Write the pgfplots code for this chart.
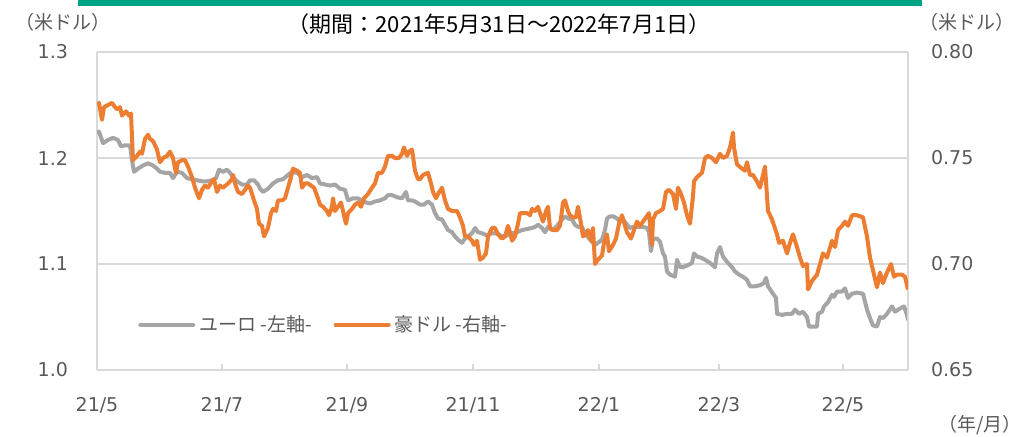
\documentclass[border=0pt]{standalone}
\usepackage{pgfplots}
\pgfplotsset{compat=1.18}
\usepackage{fontspec}
\setmainfont{DejaVu Sans}
\newfontfamily\jp{Noto Sans CJK JP}
\definecolor{eurgray}{HTML}{A5A5A5}
\definecolor{audorange}{HTML}{ED7D31}
\definecolor{gridgray}{HTML}{D9D9D9}
\definecolor{txtgray}{HTML}{595959}
\definecolor{bargreen}{HTML}{00A383}
\begin{document}
\begin{tikzpicture}
\useasboundingbox (-48.5pt,-33pt) rectangle (465.5pt,185pt);
\fill[bargreen] (-9.5pt,182pt) rectangle (412.5pt,185pt);
\node[font=\jp\fontsize{11pt}{13pt}\selectfont, text=black] at (201pt,173pt) {（期間：2021年5月31日～2022年7月1日）};
\node[font=\jp\fontsize{9.5pt}{11pt}\selectfont, text=txtgray] at (-17pt,174pt) {（米ドル）};
\node[font=\jp\fontsize{9.5pt}{11pt}\selectfont, text=txtgray] at (435pt,174pt) {（米ドル）};
\node[font=\jp\fontsize{9.5pt}{11pt}\selectfont, text=txtgray] at (441.5pt,-27.5pt) {（年/月）};
\begin{axis}[
  at={(0pt,0pt)}, anchor=south west,
  scale only axis, width=405.5pt, height=159pt,
  xmin=0, xmax=811, ymin=1.0, ymax=1.3,
  ytick={1.0,1.1,1.2,1.3},
  yticklabel style={/pgf/number format/fixed,/pgf/number format/fixed zerofill,/pgf/number format/precision=1, xshift=-11pt},
  xtick={0,125,250,376,502,622,746},
  xticklabels={21/5,21/7,21/9,21/11,22/1,22/3,22/5},
  xticklabel style={yshift=-10pt},
  /pgf/number format/assume math mode=true,
  ticklabel style={font=\fontsize{9.5pt}{11pt}\selectfont, text=txtgray},
  ymajorgrids, grid style={gridgray, line width=0.75pt},
  axis line style={gridgray, line width=0.75pt},
  ytick style={draw=none},
  xtick pos=bottom, xtick align=inside,
  xtick style={gridgray, line width=0.75pt},
  major tick length=3pt,
  axis y line*=left,
]
\addplot[eurgray, line width=2pt, line join=round] coordinates {
(0,1.223)(2,1.225)(6,1.214)(11,1.217)(16,1.219)(21,1.217)(24,1.211)(28,1.212)(33,1.212)(35,1.198)(37,1.187)(41,1.190)(46,1.193)(51,1.195)(56,1.193)(60,1.190)(63,1.187)(68,1.186)(73,1.186)(76,1.181)(80,1.187)(85,1.186)(90,1.181)(95,1.180)(100,1.179)(105,1.178)(110,1.178)(115,1.179)(119,1.181)(122,1.189)(126,1.187)(130,1.189)(133,1.186)(136,1.182)(140,1.178)(145,1.175)(150,1.175)(153,1.179)(157,1.179)(161,1.175)(163,1.171)(166,1.168)(171,1.171)(176,1.176)(181,1.179)(186,1.180)(191,1.184)(195,1.187)(200,1.186)(205,1.182)(210,1.184)(215,1.181)(220,1.182)(223,1.176)(228,1.175)(233,1.174)(238,1.175)(243,1.171)(248,1.170)(251,1.160)(256,1.162)(261,1.162)(266,1.159)(273,1.157)(278,1.159)(283,1.160)(288,1.162)(291,1.165)(295,1.165)(300,1.163)(305,1.162)(309,1.168)(311,1.160)(315,1.160)(318,1.159)(323,1.156)(327,1.156)(331,1.159)(335,1.156)(338,1.148)(341,1.143)(345,1.142)(348,1.137)(351,1.132)(355,1.130)(358,1.126)(361,1.123)(365,1.120)(368,1.124)(371,1.126)(375,1.129)(378,1.134)(381,1.130)(385,1.129)(390,1.127)(395,1.129)(400,1.129)(405,1.126)(410,1.127)(415,1.129)(420,1.130)(425,1.132)(430,1.133)(435,1.134)(438,1.135)(441,1.137)(445,1.134)(448,1.130)(451,1.135)(455,1.132)(458,1.134)(461,1.137)(465,1.142)(468,1.145)(471,1.143)(475,1.142)(478,1.137)(481,1.135)(485,1.135)(488,1.129)(493,1.123)(498,1.118)(501,1.120)(505,1.123)(508,1.132)(510,1.143)(513,1.145)(516,1.145)(520,1.143)(523,1.140)(526,1.142)(530,1.137)(533,1.134)(536,1.135)(541,1.135)(546,1.135)(550,1.134)(552,1.130)(554,1.112)(556,1.124)(560,1.124)(563,1.121)(566,1.110)(568,1.107)(570,1.093)(573,1.090)(578,1.088)(580,1.104)(583,1.097)(586,1.097)(591,1.099)(595,1.101)(597,1.110)(600,1.107)(604,1.106)(608,1.104)(613,1.101)(618,1.097)(620,1.110)(623,1.116)(626,1.107)(630,1.102)(635,1.097)(638,1.093)(642,1.090)(646,1.088)(650,1.085)(653,1.079)(658,1.079)(663,1.080)(667,1.082)(669,1.087)(671,1.079)(676,1.072)(679,1.068)(680,1.053)(685,1.052)(690,1.053)(695,1.053)(698,1.057)(702,1.053)(706,1.055)(710,1.050)(712,1.041)(716,1.041)(720,1.041)(721,1.053)(725,1.055)(727,1.060)(731,1.064)(735,1.071)(737,1.069)(740,1.074)(745,1.074)(748,1.077)(751,1.068)(755,1.072)(760,1.073)(766,1.072)(770,1.057)(773,1.049)(776,1.042)(780,1.041)(783,1.050)(786,1.049)(790,1.053)(795,1.060)(798,1.055)(803,1.058)(807,1.060)(810,1.052)(811,1.047)
};
\end{axis}
\begin{axis}[
  at={(0pt,0pt)}, anchor=south west,
  scale only axis, width=405.5pt, height=159pt,
  xmin=0, xmax=811, ymin=0.65, ymax=0.80,
  axis x line=none, axis y line*=right,
  ytick={0.65,0.70,0.75,0.80},
  yticklabel style={/pgf/number format/fixed,/pgf/number format/fixed zerofill,/pgf/number format/precision=2, xshift=8pt},
  /pgf/number format/assume math mode=true,
  ticklabel style={font=\fontsize{9.5pt}{11pt}\selectfont, text=txtgray},
  axis line style={gridgray, line width=0.75pt},
  ytick style={draw=none},
  legend style={at={(0.043,0.142)}, anchor=west, draw=none, fill=none, font=\jp\fontsize{9.5pt}{11pt}\selectfont, text=txtgray, legend columns=2, column sep=0pt, /tikz/every even column/.append style={column sep=9pt}},
  legend image code/.code={\draw[#1, line cap=round] (0pt,0pt) -- (26.5pt,0pt);},
]
\addlegendimage{eurgray, line width=2pt}
\addlegendentry{ユーロ -左軸-}
\addplot[audorange, line width=2pt, line join=round] coordinates {
(0,0.775)(2,0.776)(5,0.768)(7,0.774)(11,0.775)(15,0.776)(18,0.774)(20,0.773)(23,0.774)(25,0.770)(29,0.772)(32,0.770)(34,0.771)(36,0.749)(40,0.751)(43,0.753)(45,0.752)(48,0.759)(51,0.761)(53,0.759)(56,0.758)(60,0.754)(63,0.748)(66,0.750)(70,0.751)(73,0.753)(76,0.750)(79,0.743)(81,0.748)(85,0.749)(88,0.749)(91,0.746)(95,0.741)(98,0.736)(102,0.731)(105,0.735)(108,0.737)(111,0.736)(115,0.739)(117,0.740)(120,0.734)(123,0.737)(126,0.736)(131,0.738)(135,0.740)(136,0.742)(138,0.738)(141,0.734)(145,0.733)(148,0.735)(151,0.737)(153,0.736)(155,0.733)(157,0.730)(160,0.726)(162,0.719)(165,0.718)(167,0.713)(171,0.717)(174,0.724)(176,0.726)(179,0.725)(181,0.730)(185,0.730)(188,0.731)(191,0.736)(194,0.741)(196,0.745)(200,0.744)(203,0.743)(205,0.736)(208,0.738)(211,0.738)(214,0.737)(217,0.736)(221,0.731)(223,0.728)(226,0.727)(230,0.725)(232,0.723)(235,0.727)(236,0.731)(238,0.725)(241,0.727)(244,0.729)(246,0.725)(249,0.719)(251,0.724)(255,0.726)(258,0.728)(261,0.729)(264,0.727)(267,0.731)(271,0.733)(275,0.736)(278,0.738)(281,0.743)(285,0.743)(288,0.746)(291,0.751)(295,0.751)(298,0.750)(302,0.750)(305,0.752)(307,0.755)(310,0.751)(312,0.753)(315,0.754)(318,0.744)(321,0.740)(323,0.740)(326,0.742)(331,0.743)(334,0.738)(336,0.734)(339,0.731)(341,0.733)(345,0.736)(348,0.730)(351,0.726)(355,0.725)(360,0.725)(363,0.722)(366,0.718)(368,0.713)(371,0.713)(375,0.711)(377,0.709)(380,0.711)(383,0.702)(386,0.703)(389,0.705)(391,0.713)(395,0.717)(398,0.717)(401,0.714)(405,0.712)(408,0.713)(411,0.718)(413,0.715)(415,0.711)(418,0.713)(421,0.719)(423,0.724)(426,0.724)(430,0.724)(433,0.723)(435,0.726)(438,0.725)(441,0.727)(443,0.724)(446,0.720)(449,0.725)(451,0.727)(453,0.717)(456,0.716)(460,0.716)(463,0.718)(466,0.729)(468,0.730)(471,0.725)(473,0.723)(476,0.722)(479,0.722)(481,0.727)(484,0.719)(486,0.713)(489,0.714)(491,0.716)(494,0.711)(496,0.717)(498,0.700)(501,0.702)(505,0.704)(507,0.710)(510,0.714)(512,0.706)(516,0.709)(519,0.712)(522,0.719)(525,0.723)(528,0.718)(530,0.715)(534,0.712)(537,0.716)(540,0.720)(543,0.718)(546,0.720)(549,0.722)(552,0.724)(555,0.709)(556,0.721)(559,0.724)(563,0.725)(566,0.726)(569,0.734)(572,0.735)(576,0.733)(579,0.726)(581,0.736)(584,0.733)(587,0.729)(590,0.723)(593,0.719)(596,0.732)(597,0.739)(600,0.741)(605,0.743)(608,0.750)(611,0.751)(615,0.750)(619,0.748)(623,0.752)(626,0.750)(630,0.751)(633,0.755)(636,0.762)(637,0.755)(640,0.747)(645,0.745)(648,0.744)(650,0.748)(653,0.742)(656,0.742)(660,0.739)(663,0.736)(668,0.746)(671,0.725)(675,0.721)(680,0.714)(682,0.710)(686,0.711)(690,0.705)(693,0.710)(696,0.714)(700,0.708)(703,0.703)(706,0.699)(710,0.700)(711,0.688)(715,0.692)(720,0.695)(723,0.700)(726,0.705)(730,0.703)(735,0.711)(738,0.708)(741,0.716)(745,0.718)(748,0.720)(751,0.718)(755,0.723)(760,0.723)(766,0.722)(770,0.713)(773,0.703)(776,0.697)(780,0.689)(783,0.696)(786,0.691)(790,0.696)(794,0.700)(797,0.694)(800,0.695)(805,0.695)(808,0.694)(811,0.688)
};
\addlegendentry{豪ドル -右軸-}
\end{axis}
\end{tikzpicture}
\end{document}
